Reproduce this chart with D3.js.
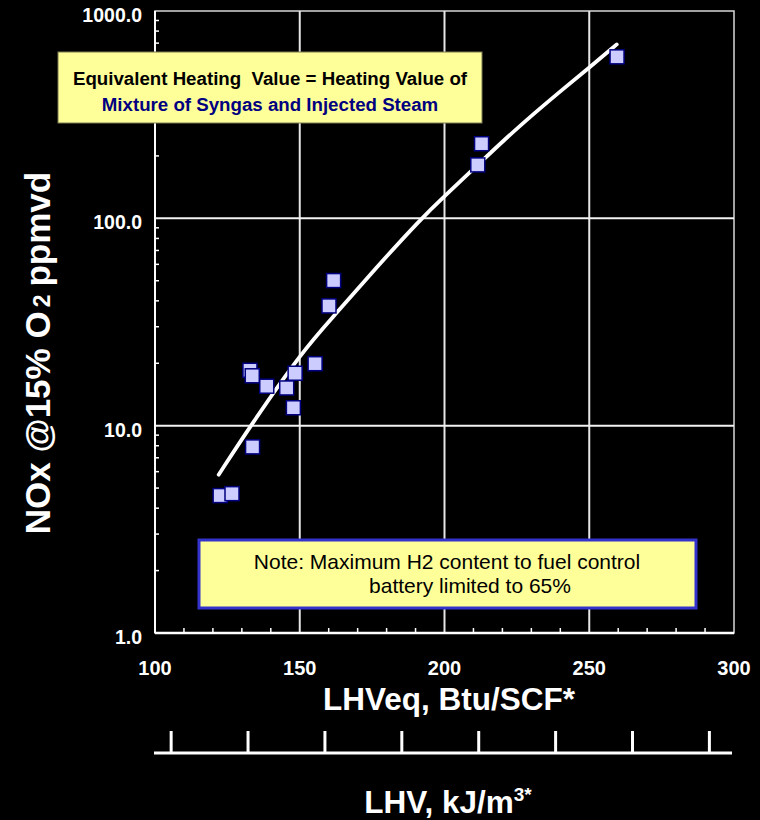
<!DOCTYPE html>
<html>
<head>
<meta charset="utf-8">
<script src="https://cdn.jsdelivr.net/npm/d3@7"></script>
<style>
  html, body { margin: 0; padding: 0; background: #000; }
  svg { display: block; font-family: "Liberation Sans", Arial, sans-serif; }
</style>
</head>
<body>
<svg width="760" height="820"></svg>
<script>
// measured points: LHVeq (Btu/SCF) vs NOx (ppmvd @15% O2)
const lhv = [122.5, 126.6, 133.7, 132.8, 133.6, 138.6, 145.5, 148.4, 147.8, 155.3, 160.1, 161.7, 211.5, 212.8, 259.6];
const nox = [4.6, 4.7, 7.9, 18.5, 17.4, 15.5, 15.2, 17.9, 12.2, 19.9, 37.8, 50.1, 181, 229, 601];

// trend line
const fitX = [122, 133, 151, 162, 176, 192, 200, 211, 220, 232, 240, 250, 259.5];
const fitY = [5.8, 10, 23, 34, 57, 100, 128, 178, 235, 330, 410, 533, 690];

// ticks
const xLabels = [100, 150, 200, 250, 300];
const xGrid = [150, 200, 250];
const xMinor = [110, 120, 130, 140, 160, 170, 180, 190, 210, 220, 230, 240, 260, 270, 280, 290];
const yLabels = [1, 10, 100, 1000];
const yGrid = [10, 100];
const yMinor = [2, 3, 4, 5, 6, 7, 8, 9, 20, 30, 40, 50, 60, 70, 80, 90, 200, 300, 400, 500, 600, 700, 800, 900];
const kjTicks = [4000, 5000, 6000, 7000, 8000, 9000, 10000, 11000];

const svg = d3.select('svg');
const pLeft = 155, pRight = 734, pTop = 11, pBottom = 633;

const x = d3.scaleLinear().domain([100, 300]).range([pLeft, pRight]);
const y = d3.scaleLog().domain([1, 1000]).range([pBottom, pTop]);
const kj = d3.scaleLinear().domain([3790, 11320]).range([pLeft, pRight]);

const g = svg.append('g');

// frame
g.append('rect')
  .attr('x', pLeft).attr('y', pTop)
  .attr('width', pRight - pLeft).attr('height', pBottom - pTop)
  .attr('fill', 'none')
  .attr('stroke', '#d8d8d8')
  .attr('stroke-width', 1.5);

// gridlines
g.selectAll('.vgrid')
  .data(xGrid).enter()
  .append('line')
  .attr('x1', d => x(d)).attr('x2', d => x(d))
  .attr('y1', pTop).attr('y2', pBottom)
  .attr('stroke', '#e6e6e6')
  .attr('stroke-width', 2);

g.selectAll('.hgrid')
  .data(yGrid).enter()
  .append('line')
  .attr('x1', pLeft).attr('x2', pRight)
  .attr('y1', d => y(d)).attr('y2', d => y(d))
  .attr('stroke', '#f2f2f2')
  .attr('stroke-width', 2);

// minor ticks pointing inside
g.selectAll('.xminor')
  .data(xMinor).enter()
  .append('line')
  .attr('x1', d => x(d)).attr('x2', d => x(d))
  .attr('y1', pBottom).attr('y2', pBottom - 5)
  .attr('stroke', '#fff')
  .attr('stroke-width', 1.5);

g.selectAll('.yminor')
  .data(yMinor).enter()
  .append('line')
  .attr('x1', pLeft).attr('x2', pLeft + 4)
  .attr('y1', d => y(d)).attr('y2', d => y(d))
  .attr('stroke', '#fff')
  .attr('stroke-width', 1.5);

// main axis lines
g.append('line')
  .attr('x1', pLeft).attr('x2', pLeft)
  .attr('y1', pTop).attr('y2', pBottom)
  .attr('stroke', '#fff').attr('stroke-width', 2);
g.append('line')
  .attr('x1', pLeft).attr('x2', pRight)
  .attr('y1', pBottom).attr('y2', pBottom)
  .attr('stroke', '#fff').attr('stroke-width', 2.5);

// tick labels
g.selectAll('.ylab')
  .data(yLabels).enter()
  .append('text')
  .attr('x', 142)
  .attr('y', d => y(d) + 11)
  .attr('text-anchor', 'end')
  .attr('fill', '#fff')
  .attr('font-weight', 'bold')
  .attr('font-size', '19.5px')
  .text(d => d3.format('.1f')(d));

g.selectAll('.xlab')
  .data(xLabels).enter()
  .append('text')
  .attr('x', d => x(d))
  .attr('y', 675)
  .attr('text-anchor', 'middle')
  .attr('fill', '#fff')
  .attr('font-weight', 'bold')
  .attr('font-size', '20px')
  .text(d => d);

// annotation box (top)
g.append('rect')
  .attr('x', 58).attr('y', 52)
  .attr('width', 424).attr('height', 71)
  .attr('fill', '#ffff99')
  .attr('stroke', '#7a7a55')
  .attr('stroke-width', 1);
g.append('text')
  .attr('x', 270).attr('y', 85)
  .attr('text-anchor', 'middle')
  .attr('font-weight', 'bold')
  .attr('font-size', '18.7px')
  .attr('fill', '#000')
  .attr('xml:space', 'preserve')
  .text('Equivalent Heating  Value = Heating Value of');
g.append('text')
  .attr('x', 270).attr('y', 111)
  .attr('text-anchor', 'middle')
  .attr('font-weight', 'bold')
  .attr('font-size', '18.7px')
  .attr('fill', '#000080')
  .text('Mixture of Syngas and Injected Steam');

// note box (bottom)
g.append('rect')
  .attr('x', 199).attr('y', 540)
  .attr('width', 497).attr('height', 68)
  .attr('fill', '#ffff99')
  .attr('stroke', '#3333cc')
  .attr('stroke-width', 3);
g.append('text')
  .attr('x', 447).attr('y', 569)
  .attr('text-anchor', 'middle')
  .attr('font-size', '21px')
  .attr('fill', '#000')
  .text('Note: Maximum H2 content to fuel control');
g.append('text')
  .attr('x', 470).attr('y', 593)
  .attr('text-anchor', 'middle')
  .attr('font-size', '21px')
  .attr('fill', '#000')
  .text('battery limited to 65%');

// trend line
const fit = fitX.map((d, i) => [d, fitY[i]]);
g.append('path')
  .datum(fit)
  .attr('fill', 'none')
  .attr('stroke', '#fff')
  .attr('stroke-width', 3.8)
  .attr('stroke-linecap', 'round')
  .attr('d', d3.line()
    .x(d => x(d[0]))
    .y(d => y(d[1]))
    .curve(d3.curveBasis));

// data squares
const pts = lhv.map((d, i) => ({ lhv: d, nox: nox[i] }));
const s = 14;
g.selectAll('.pt')
  .data(pts).enter()
  .append('rect')
  .attr('x', d => x(d.lhv) - s / 2)
  .attr('y', d => y(d.nox) - s / 2)
  .attr('width', s).attr('height', s)
  .attr('fill', '#ccccff')
  .attr('stroke', '#000080')
  .attr('stroke-width', 1.5);

// axis titles
g.append('text')
  .attr('x', 449).attr('y', 710)
  .attr('text-anchor', 'middle')
  .attr('fill', '#fff')
  .attr('font-weight', 'bold')
  .attr('font-size', '31.5px')
  .text('LHVeq, Btu/SCF*');

const yt = g.append('text')
  .attr('transform', 'translate(50, 353) rotate(-90)')
  .attr('text-anchor', 'middle')
  .attr('fill', '#fff')
  .attr('font-weight', 'bold')
  .attr('font-size', '35px');
yt.append('tspan').text('NOx @15% O');
yt.append('tspan').attr('font-size', '23px').attr('dx', 4).text('2');
yt.append('tspan').attr('dx', 8).text('ppmvd');

// secondary axis (kJ/m3)
g.append('line')
  .attr('x1', 154).attr('x2', 732)
  .attr('y1', 753).attr('y2', 753)
  .attr('stroke', '#fff').attr('stroke-width', 3);
g.selectAll('.kjtick')
  .data(kjTicks).enter()
  .append('line')
  .attr('x1', d => kj(d)).attr('x2', d => kj(d))
  .attr('y1', 731).attr('y2', 753)
  .attr('stroke', '#fff').attr('stroke-width', 3);

const kt = g.append('text')
  .attr('x', 448).attr('y', 813)
  .attr('text-anchor', 'middle')
  .attr('fill', '#fff')
  .attr('font-weight', 'bold')
  .attr('font-size', '31.5px');
kt.append('tspan').text('LHV, kJ/m');
kt.append('tspan').attr('font-size', '19px').attr('dy', -12).text('3*');
</script>
</body>
</html>
